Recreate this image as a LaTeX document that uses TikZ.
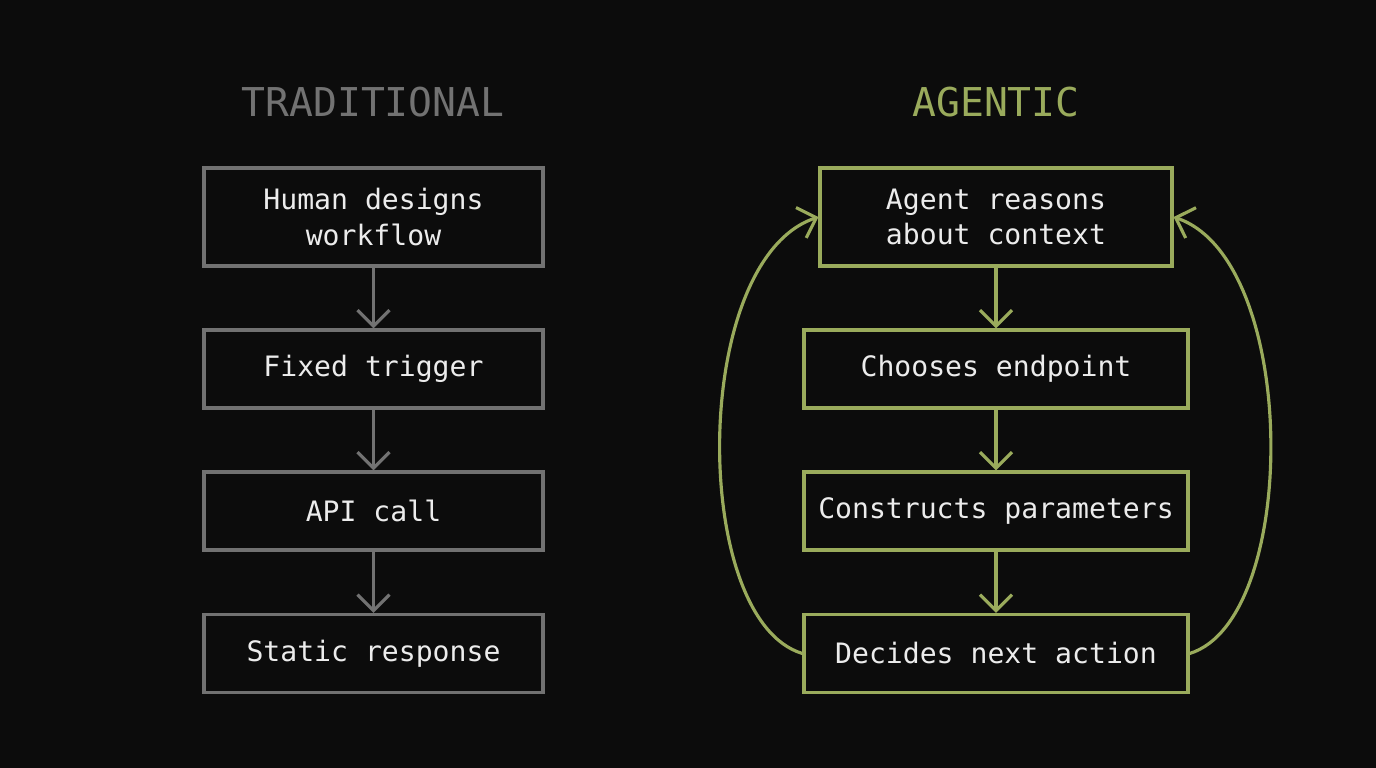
\documentclass[tikz,border=0pt]{standalone}
\usepackage{fontspec}
\setmonofont{DejaVu Sans Mono}
\usetikzlibrary{arrows.meta}
\definecolor{bg}{HTML}{0C0C0C}
\definecolor{grayline}{HTML}{727272}
\definecolor{agentgreen}{HTML}{9AAB5C}
\definecolor{txt}{HTML}{ECECEC}
\begin{document}
\begin{tikzpicture}[font=\ttfamily\fontsize{8}{10}\selectfont, text=txt]
	\tikzstyle{trad} = [rectangle, draw=grayline, line width=0.9pt, minimum width=3.39cm, minimum height=0.78cm, align=center]
	\tikzstyle{agent} = [rectangle, draw=agentgreen, line width=0.9pt, minimum width=3.84cm, minimum height=0.78cm, align=center]
	\tikzstyle{arrow} = [-{Straight Barb[length=1.6mm,width=3.2mm]}, line width=0.9pt]
	
	% Background
	\fill[bg] (0,0) rectangle (13.76,-7.68);
	
	% Titles
	\node (t1) [text=grayline, font=\ttfamily\fontsize{11.3}{13}\selectfont] at (3.73,-1.02) {TRADITIONAL};
	\node (t2) [text=agentgreen, font=\ttfamily\fontsize{11.3}{13}\selectfont] at (9.96,-1.02) {AGENTIC};
	
	% Traditional column
	\node (h) [trad, minimum height=0.98cm] at (3.735,-2.17) {Human designs\\workflow};
	\node (f) [trad] at (3.735,-3.69) {Fixed trigger};
	\node (a) [trad] at (3.735,-5.11) {API call};
	\node (s) [trad] at (3.735,-6.535) {Static response};
	
	% Agentic column
	\node (r) [agent, minimum width=3.52cm, minimum height=0.98cm] at (9.96,-2.17) {Agent reasons\\about context};
	\node (c) [agent] at (9.96,-3.69) {Chooses endpoint};
	\node (p) [agent] at (9.96,-5.11) {Constructs parameters};
	\node (d) [agent] at (9.96,-6.535) {Decides next action};
	
	% Arrows
	\draw [arrow, grayline] (h) -- (f);
	\draw [arrow, grayline] (f) -- (a);
	\draw [arrow, grayline] (a) -- (s);
	
	\draw [arrow, agentgreen] (r) -- (c);
	\draw [arrow, agentgreen] (c) -- (p);
	\draw [arrow, agentgreen] (p) -- (d);
	
	\draw [arrow, agentgreen] (d.west) .. controls (6.9,-6.2) and (6.9,-2.6) .. (r.west);
	\draw [arrow, agentgreen] (d.east) .. controls (13.0,-6.2) and (13.0,-2.6) .. (r.east);
\end{tikzpicture}
\end{document}
